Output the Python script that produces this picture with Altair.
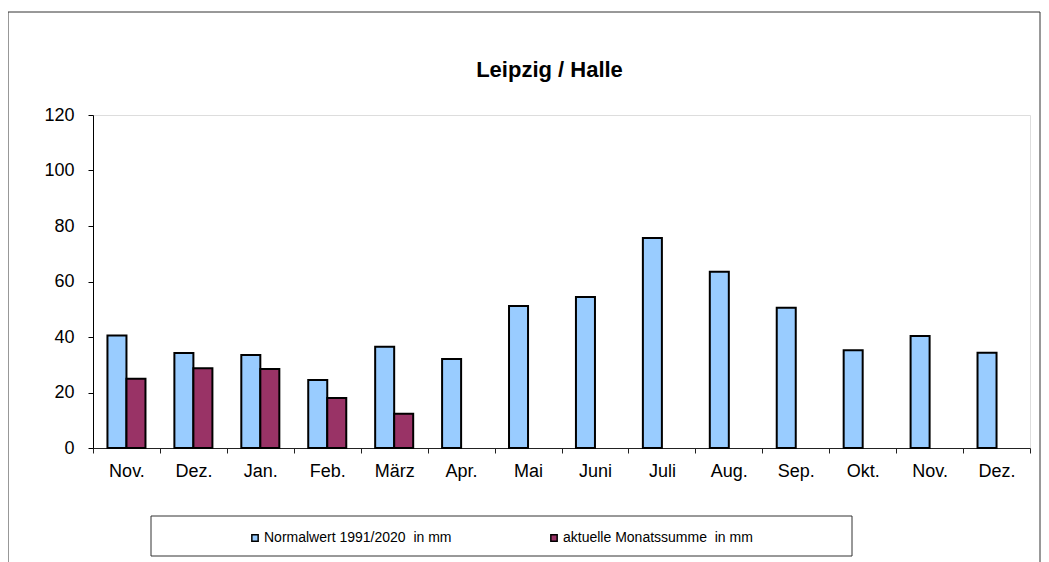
import json
import altair as alt
import pandas as pd

# ---- data ----
title_text = "Leipzig / Halle"
months = ["Nov.", "Dez.", "Jan.", "Feb.", "März", "Apr.", "Mai", "Juni",
          "Juli", "Aug.", "Sep.", "Okt.", "Nov.", "Dez."]
normal = [40.5, 34.2, 33.5, 24.5, 36.5, 32.1, 51.2, 54.4, 75.7, 63.5, 50.5, 35.2, 40.4, 34.3]
aktuell = [25.0, 28.7, 28.5, 18.0, 12.3]
series = ["Normalwert 1991/2020 \u00a0in mm", "aktuelle Monatssumme \u00a0in mm"]
colors = ["#99CCFF", "#993366"]
y_ticks = [0, 20, 40, 60, 80, 100, 120]

rows = []
for i, v in enumerate(normal):
    rows.append({"idx": i, "series": series[0], "value": v})
for i, v in enumerate(aktuell):
    rows.append({"idx": i, "series": series[1], "value": v})
df = pd.DataFrame(rows)

FONT = "Liberation Sans"
label_expr = json.dumps(months) + "[datum.value]"

bars = alt.Chart(df).mark_bar(stroke="black", strokeWidth=2).encode(
    x=alt.X("idx:O",
            scale=alt.Scale(paddingInner=0, paddingOuter=0),
            axis=alt.Axis(title=None, labelAngle=0, tickBand="extent", tickSize=5,
                          labelPadding=9, labelExpr=label_expr, labelFontSize=18,
                          labelFont=FONT, labelColor="black", domainColor="#222222",
                          tickColor="#222222", domainWidth=1.2)),
    xOffset=alt.XOffset("series:N", scale=alt.Scale(domain=series, paddingOuter=0.76,
                                                     paddingInner=0)),
    y=alt.Y("value:Q",
            scale=alt.Scale(domain=[0, 120], nice=False),
            axis=alt.Axis(title=None, values=y_ticks, grid=False, tickSize=5,
                          labelPadding=14, labelFontSize=18, labelFont=FONT,
                          labelColor="black", domainColor="black", tickColor="black")),
    color=alt.Color("series:N",
                    scale=alt.Scale(domain=series, range=colors),
                    legend=alt.Legend(orient="none", legendX=155, legendY=416,
                                      direction="horizontal", title=None,
                                      symbolType="square", symbolSize=40,
                                      symbolStrokeColor="black", symbolStrokeWidth=1.5,
                                      labelFont=FONT, labelFontSize=14, labelColor="black",
                                      labelOffset=2, columnPadding=95, padding=0,
                                      labelLimit=400)),
)

one_row = pd.DataFrame([{"title": title_text}])
outer = alt.Chart(one_row).mark_rect(fill="transparent", stroke="#333333",
                                     strokeWidth=1).encode(
    x=alt.value(-85), x2=alt.value(947), y=alt.value(-103), y2=alt.value(700))
legend_box = alt.Chart(one_row).mark_rect(fill="transparent", stroke="#333333",
                                          strokeWidth=1).encode(
    x=alt.value(58), x2=alt.value(759), y=alt.value(401), y2=alt.value(441))
title = alt.Chart(one_row).mark_text(font=FONT, fontSize=22, fontWeight="bold",
                                     color="black", align="center",
                                     baseline="alphabetic").encode(
    text="title:N", x=alt.value(456.5), y=alt.value(-38.5))

chart = alt.layer(outer, legend_box, title, bars).properties(
    width=937, height=333,
    autosize=alt.AutoSizeParams(type="none"),
    padding={"left": 85, "top": 107, "right": 11, "bottom": 114},
).configure_view(stroke="transparent").configure(background="white")

chart.save("out.html", embed_options={"renderer": "svg", "actions": False})
